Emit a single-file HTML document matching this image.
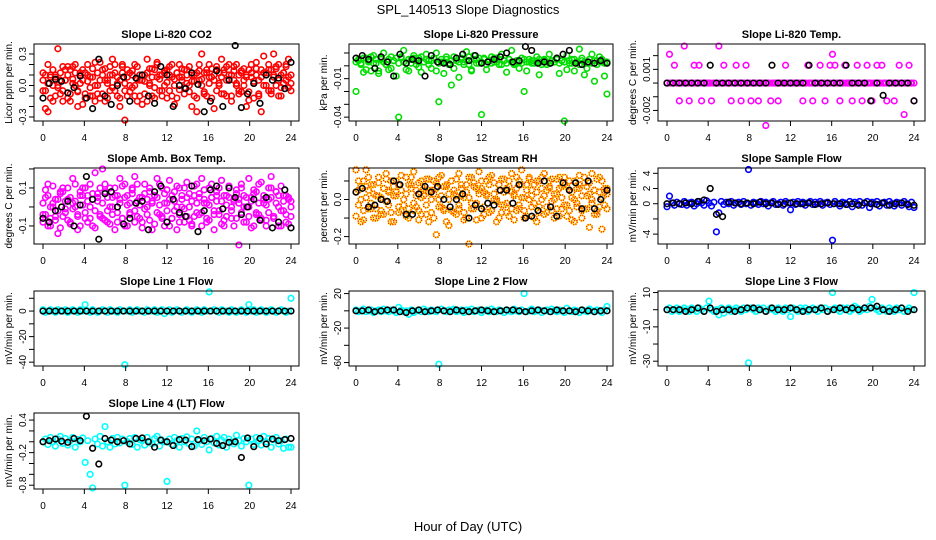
<!DOCTYPE html>
<html><head><meta charset="utf-8"><style>
html,body{margin:0;padding:0;background:#fff;}
svg{display:block;font-family:"Liberation Sans",sans-serif;}
</style></head><body>
<svg id="chart" width="936" height="540" viewBox="0 0 936 540">
<text x="468" y="14" text-anchor="middle" font-size="13">SPL_140513  Slope Diagnostics</text>
<text x="468" y="531" text-anchor="middle" font-size="13">Hour of Day (UTC)</text>
</svg>
<script>
// ---------- data ----------
const co2Red = [0.05,-0.22,-0.25,0.1,0.0,-0.1,0.35,0.05,-0.05,0.15,
0.1,-0.15,0.18,0.0,-0.2,0.12,0.05,-0.08,0.2,0.08,
-0.1,0.22,0.0,-0.12,0.15,0.05,-0.12,0.1,0.25,-0.05,
0.02,-0.2,0.18,-0.33,-0.1,0.12,-0.02,0.2,-0.15,0.05,
-0.18,0.1,0.25,0.0,-0.1,0.15,0.22,-0.05,0.1,0.0,
-0.12,0.18,0.08,-0.18,0.12,0.2,0.05,-0.08,0.15,0.0,
-0.2,0.1,-0.25,0.05,0.3,0.12,-0.1,0.2,0.08,-0.22,
0.15,0.0,0.25,-0.08,0.18,0.1,-0.15,0.05,0.2,-0.05,
0.12,0.0,-0.2,0.15,0.08,-0.12,0.22,0.05,-0.25,0.28,
0.1,-0.05,0.15,0.3,0.0,0.2,-0.1,0.12,0.05,0.25,-0.05];
const co2Red2 = [-0.05,0.1,0.02,-0.12,0.15,0.08,-0.02,0.12,-0.15,0.05,
0.18,-0.08,0.06,0.12,-0.05,0.02,0.15,-0.12,0.1,-0.02,
0.08,-0.15,0.12,0.05,-0.08,0.16,0.02,-0.05,0.1,0.2,
-0.1,0.05,0.12,-0.05,0.08,0.0,0.14,-0.1,0.06,0.1,
0.05,-0.08,0.12,0.02,0.16,-0.12,0.08,0.1,-0.05,0.14,
0.03,0.1,-0.1,0.06,0.12,-0.04,0.08,0.15,0.02,-0.06,
0.1,0.04,-0.12,0.14,0.06,-0.08,0.12,0.02,0.16,0.05,
-0.05,0.12,0.08,0.15,-0.1,0.06,0.1,0.18,0.02,-0.08,
0.14,0.05,0.1,-0.06,0.12,0.02,0.16,-0.1,0.08,0.12,
0.0,0.15,-0.08,0.1,0.18,0.05,-0.02,0.12,0.2,0.08,0.02];
const co2Red3 = [0.12,-0.05,0.2,0.08,-0.15,0.1,0.0,-0.08,0.18,0.05,
-0.12,0.15,0.02,0.2,-0.06,0.1,-0.18,0.12,0.04,-0.1,
0.16,0.0,-0.08,0.22,0.1,-0.15,0.05,0.18,-0.02,0.12,
0.08,-0.12,0.2,0.02,0.15,-0.06,0.1,0.0,0.18,-0.1,
0.1,0.04,-0.15,0.16,0.08,-0.02,0.2,0.06,-0.1,0.12,
0.15,-0.05,0.2,0.0,-0.12,0.08,0.16,-0.02,0.1,0.18,
0.04,-0.1,0.12,0.2,0.0,-0.06,0.15,0.08,-0.12,0.1,
0.18,0.02,-0.08,0.12,0.05,0.2,-0.1,0.14,0.0,0.1,
-0.06,0.16,0.08,-0.14,0.2,0.04,0.1,-0.08,0.15,0.0,
0.12,0.2,-0.05,0.08,0.16,-0.1,0.1,0.02,0.18,-0.02,0.1];
const co2Black = [-0.12,0.02,0.06,0.04,-0.07,-0.02,0.09,-0.12,-0.22,0.25,-0.1,-0.18,0.0,0.08,-0.15,0.07,0.1,-0.1,-0.17,0.18,0.1,-0.2,0.0,-0.03,0.12,0.01,-0.25,-0.15,0.14,-0.2,0.05,0.38,-0.21,-0.08,0.02,-0.17,0.1,0.05,0.07,-0.03,0.22];

const presGreen = [-0.02,0.004,0.002,-0.005,0.006,0.003,-0.004,0.008,0.002,-0.006,
0.005,0.01,0.001,-0.003,0.007,0.004,-0.008,-0.04,0.006,0.012,
0.002,-0.004,0.005,0.008,0.001,0.006,-0.005,0.003,0.009,0.004,
-0.002,0.006,0.01,-0.028,0.003,-0.006,0.005,0.002,-0.015,0.007,
0.004,-0.009,0.006,0.003,0.011,0.001,-0.004,0.008,0.005,0.002,
-0.038,0.006,-0.003,0.004,0.007,0.003,0.006,0.001,0.009,0.004,
-0.005,0.005,0.012,0.002,0.004,-0.002,0.006,-0.02,0.003,0.005,
0.002,0.004,0.007,-0.007,0.003,0.005,0.001,0.009,0.004,0.003,
0.006,-0.006,0.004,-0.043,0.008,0.002,0.005,-0.004,0.003,0.013,
0.006,-0.007,0.002,0.005,0.009,-0.012,0.004,0.007,0.003,-0.008,-0.022];
const presGreen2 = [0.003,0.005,0.001,0.006,-0.003,0.004,0.007,0.002,0.005,-0.004,
0.006,0.003,0.001,0.005,-0.002,0.004,0.006,0.002,0.007,0.003,
-0.003,0.005,0.002,0.006,0.004,-0.001,0.007,0.003,0.005,0.001,
0.004,0.006,-0.004,0.002,0.005,0.003,0.007,0.001,0.004,-0.002,
0.006,0.003,0.005,0.001,0.004,0.007,-0.003,0.005,0.002,0.006,
0.003,0.005,0.001,0.004,0.002,0.006,0.003,0.005,0.001,0.004,
0.002,0.005,0.003,0.001,0.004,0.003,0.002,0.005,-0.004,0.003,
0.004,0.002,0.003,0.005,0.001,0.004,0.003,0.002,0.004,0.003,
0.005,0.002,0.004,0.003,-0.003,0.004,0.002,0.005,0.003,0.001,
0.004,0.003,-0.002,0.005,0.002,0.004,0.001,0.003,0.005,0.002,0.003];
const presBlack = [0.006,0.008,0.005,-0.002,0.007,0.003,-0.008,0.009,0.002,0.005,0.004,-0.008,0.008,0.003,0.002,0.001,0.006,0.009,0.004,0.008,0.002,0.003,0.005,0.007,0.01,0.003,0.004,0.015,0.012,0.002,0.003,0.002,0.006,0.009,0.012,0.002,0.001,0.003,0.002,0.004,0.002];

const tempMag = [0,0.0021,0,0.0013,0,-0.0013,0,0.0027,0,-0.0013,
0,0.0013,0,0.0013,-0.0013,0,0,0,-0.0013,0,
0,0.0027,0,0.0013,0,0,-0.0013,0,0.0013,0,
-0.0013,0,0.0013,0,-0.0013,0,0,-0.0013,0,0,
-0.0031,0,-0.0013,0,0,-0.0013,0,0,0.0013,0,
0,0,0,0,0,-0.0013,0,0.0013,0,-0.0013,
0,0,0.0013,0,-0.0013,0,0.0013,0.0021,0.0013,0,
-0.0013,0,0.0013,0,0,-0.0013,0,0.0013,0,-0.0013,
0,0.0013,0,-0.0013,0,0.0013,0,0.0013,0,-0.0013,
0,0,-0.0013,0,0.0013,0,-0.0023,0,0.0013,0,-0.0013];
const tempMagZero = [0,0,0,0,0,0,0,0,0,0,0,0,0,0,0,0,0,0,0,0,0,0,0,0,0,0,0,0,0,0,0,0,0,0,0,0,0,0,0,0,0,0,0,0,0,0,0,0,0,0,0,0,0,0,0,0,0,0,0,0,0,0,0,0,0,0,0,0,0,0,0,0,0,0,0,0,0,0,0,0,0];
const tempBlack = [0,0,0,0,0,0,0,0.0013,0,0,0,0,0,0,0,0,0,0.0013,0,0,0,0,0,0.0013,0,0,0,0,0,0.0013,0,0,0,-0.0013,0,-0.0009,0,0,0,0,-0.0013];

const ambMag = [-0.08,0.05,0.12,-0.1,0.02,-0.05,-0.14,0.08,0.1,-0.03,
0.04,-0.08,0.15,0.0,-0.12,0.06,0.1,-0.06,0.03,0.12,
-0.1,0.18,0.05,-0.04,0.2,0.08,-0.08,0.1,0.0,-0.12,
0.06,0.15,-0.06,0.12,-0.1,0.02,0.1,0.16,-0.05,0.05,
-0.08,0.12,0.0,0.08,-0.12,0.06,0.15,-0.04,0.1,-0.1,
0.02,0.14,-0.06,0.08,-0.12,0.1,0.04,-0.08,0.13,0.0,
-0.1,0.06,0.12,-0.04,0.15,0.02,-0.08,0.1,0.05,-0.12,
0.08,-0.02,0.14,-0.1,0.06,0.11,-0.06,0.03,0.09,-0.2,
0.12,0.0,-0.08,0.15,0.05,-0.1,0.08,-0.04,0.13,0.02,
-0.07,0.1,0.16,-0.05,0.08,0.0,-0.1,0.06,-0.08,0.04,-0.05];
const ambMag2 = [0.02,-0.04,0.06,-0.06,0.0,0.04,-0.02,0.07,-0.05,0.03,
-0.07,0.05,-0.01,0.03,-0.05,0.08,0.01,-0.03,0.06,-0.06,
0.04,-0.02,0.07,-0.05,0.02,-0.07,0.05,0.0,-0.04,0.06,
-0.03,0.02,-0.06,0.05,0.01,-0.04,0.07,-0.02,0.03,-0.06,
0.05,-0.01,0.04,-0.07,0.02,0.06,-0.03,0.01,-0.05,0.07,
-0.02,0.04,-0.06,0.03,0.0,-0.04,0.06,-0.01,0.05,-0.07,
0.03,-0.05,0.02,0.07,-0.03,0.04,-0.06,0.01,0.05,-0.02,
0.06,-0.04,0.03,-0.07,0.01,0.05,-0.02,0.04,-0.06,0.02,
-0.03,0.06,0.0,-0.05,0.03,0.07,-0.04,0.02,-0.06,0.04,
0.01,-0.03,0.05,-0.05,0.02,0.06,-0.02,0.03,-0.04,0.05,0.0];
const ambMag3 = [-0.04,0.09,-0.1,0.0,0.11,-0.07,0.04,-0.11,0.08,-0.01,
0.1,-0.09,0.02,0.12,-0.04,-0.1,0.06,0.1,-0.08,0.0,
0.07,-0.11,0.03,0.1,-0.06,0.12,-0.02,-0.09,0.05,0.1,
-0.08,0.04,0.11,-0.1,0.06,-0.03,0.09,-0.08,0.12,0.01,
-0.11,0.07,-0.04,0.1,0.03,-0.09,0.05,0.12,-0.06,0.02,
0.09,-0.1,0.06,-0.02,0.11,-0.08,0.0,0.1,-0.05,0.07,
-0.09,0.11,-0.03,0.05,-0.1,0.09,0.02,-0.07,0.12,-0.04,
0.03,0.1,-0.09,0.06,-0.05,0.11,0.0,-0.1,0.07,0.04,
0.1,-0.08,0.05,0.0,-0.11,0.09,-0.03,0.12,-0.07,0.06,
-0.1,0.04,0.1,-0.06,0.08,-0.1,0.11,-0.02,0.06,-0.09,0.03];
const ambBlack = [-0.06,-0.08,-0.02,0.0,0.03,-0.1,0.01,0.16,0.04,-0.17,0.07,0.08,0.0,-0.09,-0.06,0.02,0.03,-0.12,0.08,0.11,-0.08,0.04,-0.03,-0.05,0.11,-0.13,-0.02,0.09,0.11,-0.01,0.1,0.05,-0.04,0.0,0.04,-0.07,0.05,-0.11,-0.08,0.09,-0.11];

const rhOrange = [0.16,0.05,-0.12,0.1,0.16,-0.05,0.08,-0.1,0.02,0.12,
-0.08,0.06,0.14,-0.03,0.1,-0.12,0.04,0.08,-0.06,0.0,
0.12,-0.1,0.06,0.15,-0.04,0.09,-0.08,0.02,0.11,-0.12,
0.05,0.1,-0.19,0.0,0.13,-0.06,0.08,-0.14,0.1,0.03,
-0.08,0.14,0.02,-0.11,0.08,-0.24,0.12,-0.05,0.06,0.15,
-0.1,0.04,0.1,-0.07,0.13,0.0,-0.12,0.08,-0.03,0.11,
0.06,-0.09,0.14,0.02,-0.06,0.1,0.16,-0.1,0.05,0.12,
-0.04,0.08,-0.12,0.1,0.0,0.14,-0.07,0.06,0.11,-0.1,
0.03,0.12,-0.05,0.08,-0.09,0.1,0.01,-0.12,0.06,0.13,
-0.06,0.09,0.02,-0.15,0.14,0.05,-0.08,0.12,-0.16,0.04,0.06];
const rhOrange2 = [0.04,-0.03,0.07,-0.06,0.01,0.05,-0.02,0.08,-0.05,0.02,
-0.06,0.06,-0.01,0.04,-0.07,0.07,0.02,-0.04,0.05,-0.03,
0.03,-0.05,0.08,-0.02,0.05,-0.06,0.01,0.06,-0.03,0.04,
-0.07,0.03,0.06,-0.04,0.02,-0.05,0.07,0.0,-0.06,0.05,
0.02,-0.03,0.06,-0.07,0.04,0.01,-0.05,0.07,-0.02,0.03,
0.06,-0.04,0.02,0.08,-0.06,0.03,-0.01,0.05,-0.07,0.04,
-0.02,0.07,-0.05,0.03,0.06,-0.03,0.01,-0.06,0.08,0.0,
0.05,-0.02,0.04,-0.07,0.06,0.02,-0.04,0.07,-0.01,0.03,
-0.05,0.06,0.01,-0.03,0.07,-0.06,0.04,0.0,-0.04,0.06,
0.02,-0.05,0.07,0.03,-0.02,0.05,-0.06,0.04,0.01,-0.03,0.03];
const rhOrange3 = [-0.09,0.1,0.0,-0.11,0.07,0.12,-0.05,0.03,-0.1,0.09,
0.01,-0.08,0.11,0.05,-0.12,0.02,0.1,-0.07,0.13,-0.03,
-0.09,0.08,0.12,-0.06,0.02,-0.11,0.1,0.05,-0.08,0.11,
0.0,-0.1,0.09,0.12,-0.04,0.07,-0.12,0.03,0.1,-0.07,
0.11,-0.05,0.08,0.01,-0.1,0.12,-0.02,0.09,-0.11,0.05,
0.1,-0.08,0.03,0.12,-0.06,0.09,0.0,-0.1,0.11,-0.03,
-0.07,0.1,0.04,-0.11,0.12,-0.05,0.08,0.01,-0.09,0.11,
0.02,-0.1,0.1,-0.04,0.12,-0.08,0.05,0.1,-0.06,0.0,
0.11,-0.09,0.07,0.12,-0.03,0.05,-0.11,0.1,-0.02,0.08,
-0.1,0.12,-0.05,0.09,0.0,-0.08,0.11,-0.04,0.1,0.06,-0.05];
const rhBlack = [0.04,0.06,-0.04,-0.03,0.0,-0.01,0.1,0.08,-0.08,-0.08,0.03,0.07,0.04,0.07,0.0,-0.04,0.0,0.03,-0.1,-0.03,-0.05,-0.02,-0.03,0.05,0.05,-0.02,0.08,-0.1,-0.09,-0.06,0.1,-0.04,-0.09,0.09,0.05,0.09,-0.05,0.1,-0.05,0.0,0.05];

const flowBlue = [-0.4,1.0,0.1,-0.2,0.2,0.0,-0.1,0.3,-0.2,0.1,
0.2,-0.3,0.0,0.3,0.1,-0.2,0.4,0.1,-0.3,0.2,
-3.7,-1.2,0.3,-0.1,0.2,0.0,0.3,-0.2,0.1,0.2,
-0.1,0.3,0.0,4.5,-0.2,0.2,0.1,-0.1,0.3,0.0,
0.2,-0.3,0.1,0.3,-0.1,0.0,0.2,-0.2,0.3,0.1,
-0.8,0.2,-0.1,0.3,0.0,0.2,-0.2,0.1,0.3,-0.1,
0.2,0.0,0.3,-0.2,0.1,0.2,-0.1,-4.8,0.3,0.0,
-0.3,0.2,0.1,-0.1,0.3,-0.4,0.2,0.0,0.3,-0.2,
0.1,0.3,-0.5,0.2,0.0,0.3,-0.3,0.1,0.2,-0.2,
0.3,0.0,-0.3,0.2,0.1,-0.2,0.3,0.0,-0.4,0.2,-0.5];
const flowBlack = [0.0,0.1,0.0,0.1,0.0,0.3,0.5,2.0,-1.4,-1.7,0.2,0.1,0.0,0.1,0.0,0.2,0.0,0.1,-0.1,0.0,0.1,0.0,0.0,0.1,-0.1,0.0,0.1,0.0,0.0,-0.1,0.0,-0.2,0.1,0.0,-0.1,0.1,-0.2,0.0,0.1,-0.1,-0.2];

const line1Cyan = [1,-1,0,1,0,-1,1,0,0,1,
-1,0,1,0,-1,1,0,5,0,-1,
1,0,-1,0,1,0,-1,1,0,0,
-1,1,0,-42,0,1,-1,0,1,0,
0,-1,1,0,0,1,-1,0,1,-2,
0,1,-1,0,1,0,-1,0,1,0,
-1,0,1,0,-1,1,0,15,0,1,
0,-1,1,0,0,-1,1,0,-1,0,
1,0,-1,5,0,1,-1,0,1,0,
-1,0,1,0,-1,0,1,0,-1,0,10];
const line1Black = [0,0,0,0,0,0,0,0,0,0,0,0,0,0,0,0,0,0,0,0,0,0,0,0,0,0,0,0,0,0,0,0,0,0,0,0,0,0,0,0,0];

const line2Cyan = [1,-1,0,2,-1,0,1,-2,0,1,
-1,2,0,-1,1,0,-2,4,1,-1,
0,-4,1,-2,0,1,-1,2,0,-1,
1,0,-1,-62,2,0,-1,1,0,2,
-1,0,1,-2,1,0,2,-1,0,1,
-2,0,1,-1,2,0,-1,1,0,-2,
1,0,-1,2,0,-1,1,20,-1,0,
2,-1,0,1,-2,0,1,-1,2,0,
-1,1,0,-2,3,0,-1,1,0,-2,
1,0,-1,2,0,-1,1,0,-2,1,5];
const line2Black = [0,0,1,-1,0,1,1,-1,-2,0,1,-1,0,1,0,-1,1,0,-1,0,1,0,-1,0,1,1,0,-1,0,1,0,-1,1,0,0,-1,1,0,-1,0,0];

const line3Cyan = [0,1,-1,0,1,-1,0,1,0,-1,
1,0,-1,1,0,-1,1,5,0,-1,
0,-3,1,-2,0,1,-1,0,1,0,
-1,1,0,-31,1,0,-1,1,0,1,
-1,0,1,0,-1,1,0,-1,1,0,
-4,1,0,-1,1,0,1,-1,0,1,
0,-1,1,0,1,-1,0,10,1,0,
-1,1,0,1,-1,0,2,1,-1,0,
1,0,2,6,1,0,-1,1,0,-1,
1,0,-1,1,0,1,-1,0,1,0,10];
const line3Black = [0,0,0,-1,0,1,-1,1,-1,0,0,-1,0,1,1,0,-1,1,0,0,1,0,-1,0,0,1,-1,0,1,0,1,0,1,1,2,0,-1,0,1,-1,0];

const line4Cyan = [0.0,0.05,-0.05,0.08,0.0,-0.08,0.05,0.1,-0.03,0.06,
-0.06,0.02,0.08,-0.1,0.04,0.0,0.07,-0.38,0.02,-0.6,
-0.85,0.05,-0.04,0.1,-0.08,0.28,0.0,-0.1,0.06,-0.04,
0.08,-0.02,0.05,-0.8,0.0,0.06,-0.05,0.08,-0.1,0.04,
0.02,-0.06,0.08,0.0,-0.04,0.06,0.1,-0.08,0.03,0.0,
-0.73,0.05,-0.05,0.08,0.02,-0.1,0.06,0.0,0.09,-0.04,
0.05,-0.08,0.2,0.02,-0.05,0.08,0.0,-0.15,0.06,-0.02,
0.1,-0.06,0.03,0.08,-0.1,0.05,0.0,-0.04,0.12,0.02,
-0.08,0.06,0.0,-0.8,0.05,-0.05,0.08,0.02,-0.06,0.1,
0.0,0.06,-0.1,0.04,0.08,-0.04,0.02,-0.12,0.05,-0.1,-0.1];
const line4Black = [0.0,0.02,0.05,0.01,-0.01,0.06,0.02,0.47,-0.12,-0.41,0.06,0.03,0.0,0.02,-0.04,0.06,0.07,0.0,-0.1,0.03,0.0,-0.07,0.04,0.03,-0.09,0.04,0.02,0.05,-0.03,-0.07,-0.01,0.0,-0.29,0.07,-0.09,0.06,-0.04,0.05,0.02,0.04,0.06];

const xTicks = [0,4,8,12,16,20,24];

// ---------- layout ----------
const colBox = [[34,299],[349,613],[658,925]];
const colX = [[43,291],[356,607],[667,914]];
const rowBox = [[44,121],[168,244],[291,366],[413,489]];

const panels = [
 {name:'co2',title:'Slope Li-820 CO2',ylab:'Licor ppm per min.',r:0,c:0,yr:[0.395,-0.338],ticks:[-0.3,-0.2,-0.1,0,0.1,0.2,0.3],labels:[[0.3,'0.3'],[0,'0.0'],[-0.3,'-0.3']],series:[[co2Red,'#ff0000'],[co2Red2,'#ff0000'],[co2Red3,'#ff0000'],[co2Black,'#000']]},
 {name:'pressure',title:'Slope Li-820 Pressure',ylab:'kPa per min.',r:0,c:1,yr:[0.017,-0.043],ticks:[0.01,0,-0.01,-0.02,-0.03,-0.04],labels:[[-0.01,'-0.01'],[-0.04,'-0.04']],series:[[presGreen,'#00dd00'],[presGreen2,'#00dd00'],[presBlack,'#000']]},
 {name:'temp',title:'Slope Li-820 Temp.',ylab:'degrees C per min.',r:0,c:2,yr:[0.00285,-0.00277],ticks:[0.002,0.001,0,-0.001,-0.002],labels:[[0.001,'0.001'],[-0.002,'-0.002']],series:[[tempMag,'#ff00ff'],[tempMagZero,'#ff00ff'],[tempBlack,'#000']]},
 {name:'amb-box-temp',title:'Slope Amb. Box Temp.',ylab:'degrees C per min.',r:1,c:0,yr:[0.205,-0.195],ticks:[0.2,0.1,0,-0.1],labels:[[0.1,'0.1'],[-0.1,'-0.1']],series:[[ambMag,'#ff00ff'],[ambMag2,'#ff00ff'],[ambMag3,'#ff00ff'],[ambBlack,'#000']]},
 {name:'gas-rh',title:'Slope Gas Stream RH',ylab:'percent per min.',r:1,c:1,yr:[0.17,-0.24],ticks:[0.1,0,-0.1,-0.2],labels:[[0,'0.0'],[-0.2,'-0.2']],series:[[rhOrange,'rh'],[rhOrange2,'rh'],[rhOrange3,'rh'],[rhBlack,'#000']]},
 {name:'sample-flow',title:'Slope Sample Flow',ylab:'mV/min per min.',r:1,c:2,yr:[4.7,-5.3],ticks:[4,2,0,-2,-4],labels:[[4,'4'],[2,'2'],[0,'0'],[-4,'-4']],series:[[flowBlue,'#0000ff'],[flowBlack,'#000']]},
 {name:'line1-flow',title:'Slope Line 1 Flow',ylab:'mV/min per min.',r:2,c:0,yr:[15.7,-43],ticks:[10,0,-10,-20,-30,-40],labels:[[0,'0'],[-20,'-20'],[-40,'-40']],series:[[line1Cyan,'#00ffff'],[line1Black,'#000']]},
 {name:'line2-flow',title:'Slope Line 2 Flow',ylab:'mV/min per min.',r:2,c:1,yr:[23,-64],ticks:[20,0,-20,-40,-60],labels:[[20,'20'],[-20,'-20'],[-60,'-60']],series:[[line2Cyan,'#00ffff'],[line2Black,'#000']]},
 {name:'line3-flow',title:'Slope Line 3 Flow',ylab:'mV/min per min.',r:2,c:2,yr:[10.9,-32.8],ticks:[10,0,-10,-20,-30],labels:[[10,'10'],[-10,'-10'],[-30,'-30']],series:[[line3Cyan,'#00ffff'],[line3Black,'#000']]},
 {name:'line4-flow',title:'Slope Line 4 (LT) Flow',ylab:'mV/min per min.',r:3,c:0,yr:[0.53,-0.87],ticks:[0.4,0.2,0,-0.2,-0.4,-0.6,-0.8],labels:[[0.4,'0.4'],[-0.2,'-0.2'],[-0.8,'-0.8']],series:[[line4Cyan,'#00ffff'],[line4Black,'#000']]}
];

const NS='http://www.w3.org/2000/svg';
const svg=document.getElementById('chart');
function mk(tag,attrs,parent){const e=document.createElementNS(NS,tag);for(const k in attrs)e.setAttribute(k,attrs[k]);(parent||svg).appendChild(e);return e;}

panels.forEach(p=>{
  const [bl,br]=colBox[p.c],[bt,bb]=rowBox[p.r],[x0,x1]=colX[p.c];
  const xs=h=>x0+(x1-x0)*h/24;
  const ys=v=>bt+(bb-bt)*(p.yr[0]-v)/(p.yr[0]-p.yr[1]);
  const g=mk('g',{});
  
  
  const t=mk('text',{x:(bl+br)/2,y:bt-6,'text-anchor':'middle','font-size':'11','font-weight':'bold'},g);
  t.textContent=p.title;
  
  
  const yl=mk('text',{x:0,y:0,'text-anchor':'middle','font-size':'10',transform:`translate(${bl-22},${(bt+bb)/2}) rotate(-90)`},g);
  yl.textContent=p.ylab;
  
  
  const pg=mk('g',{},g);
  
  
  p.series.forEach(([arr,col])=>{
    const n=arr.length;
    arr.forEach((v,i)=>{
      const cx=xs(24*i/(n-1)),cy=ys(v);
      if(col==='rh'){
        const c=mk('circle',{cx,cy,r:2.8,fill:'none',stroke:'#ffee00','stroke-width':1.6},pg);
        
        
        const c2=mk('circle',{cx,cy,r:2.8,fill:'none',stroke:'#ff2000','stroke-width':1.6,'stroke-dasharray':'1 1.2'},pg);
        
        
      } else {
        const c=mk('circle',{cx,cy,r:2.8,fill:'none',stroke:col,'stroke-width':1.6},pg);
        
        
      }
    });
  });
  const box=mk('rect',{x:bl,y:bt,width:br-bl,height:bb-bt,fill:'none',stroke:'#000','stroke-width':1},g);
  
  
  xTicks.forEach(h=>{
    const x=xs(h);
    const l=mk('line',{x1:x,x2:x,y1:bb,y2:bb+5,stroke:'#000'},g);
    
    
    const tx=mk('text',{x:x,y:bb+20,'text-anchor':'middle','font-size':'10'},g);
    tx.textContent=String(h);
    
    
  });
  p.ticks.forEach(v=>{
    const y=ys(v);
    const l=mk('line',{x1:bl-5,x2:bl,y1:y,y2:y,stroke:'#000'},g);
    
    
  });
  p.labels.forEach(([v,s])=>{
    const tl=mk('text',{x:0,y:0,'text-anchor':'middle','font-size':'10',transform:`translate(${bl-8},${ys(v)}) rotate(-90)`},g);
    tl.textContent=s;
    
    
  });
});
</script>
</body></html>
